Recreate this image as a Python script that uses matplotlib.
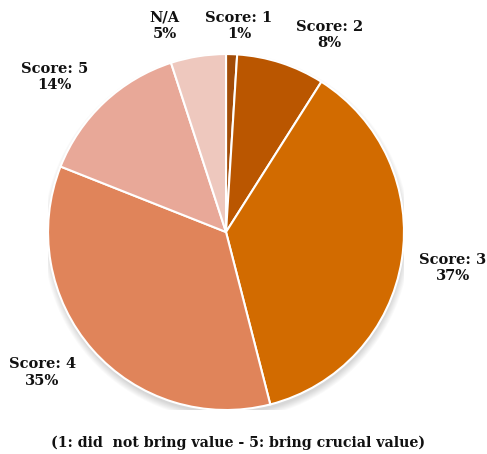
import numpy as np
import matplotlib.pyplot as plt
from matplotlib.patches import Circle

# survey answers, share of respondents in percent
labels = ["Score: 1", "Score: 2", "Score: 3", "Score: 4", "Score: 5", "N/A"]
shares = [1, 8, 37, 35, 14, 5]
colors = ["#A24C08", "#BA5600", "#D26B00", "#E0845A", "#E8A898", "#EEC8BE"]

# label placement: radius (in pie radii) and angle nudge in degrees
label_r = [1.16, 1.25, 1.29, 1.30, 1.30, 1.21]
label_da = [-1.8, -9.8, 0, -4, 4.6, 7.5]

fig = plt.figure(figsize=(4.87, 4.54), dpi=100)
ax = fig.add_axes([0.0986, 0.0969, 0.731, 0.784])

# soft drop shadow under the pie
for k in range(8):
    ax.add_patch(Circle((0.004, -0.025), 0.995 + 0.005 * k, color="#000000",
                        alpha=0.02, lw=0, zorder=0))

wedges, _ = ax.pie(shares, colors=colors, startangle=90, counterclock=False,
                   radius=1.0, wedgeprops=dict(edgecolor="white", linewidth=1.5))
for w in wedges:
    w.set_zorder(2)

font = dict(family="DejaVu Serif", weight="bold", fontsize=10.5, color="#111111")
for w, lab, s, r, da in zip(wedges, labels, shares, label_r, label_da):
    ang = np.deg2rad((w.theta1 + w.theta2) / 2 + da)
    ax.text(r * np.cos(ang), r * np.sin(ang), "{}\n{}%".format(lab, s),
            ha="center", va="center", linespacing=1.2, **font)

ax.set_xlim(-1, 1)
ax.set_ylim(-1, 1)
ax.set_aspect("equal")
ax.axis("off")

font_note = dict(font, fontsize=10.2)
fig.text(0.489, 0.024, "(1: did  not bring value - 5: bring crucial value)",
         ha="center", va="center", **font_note)

fig.savefig("out.png", dpi=100)
